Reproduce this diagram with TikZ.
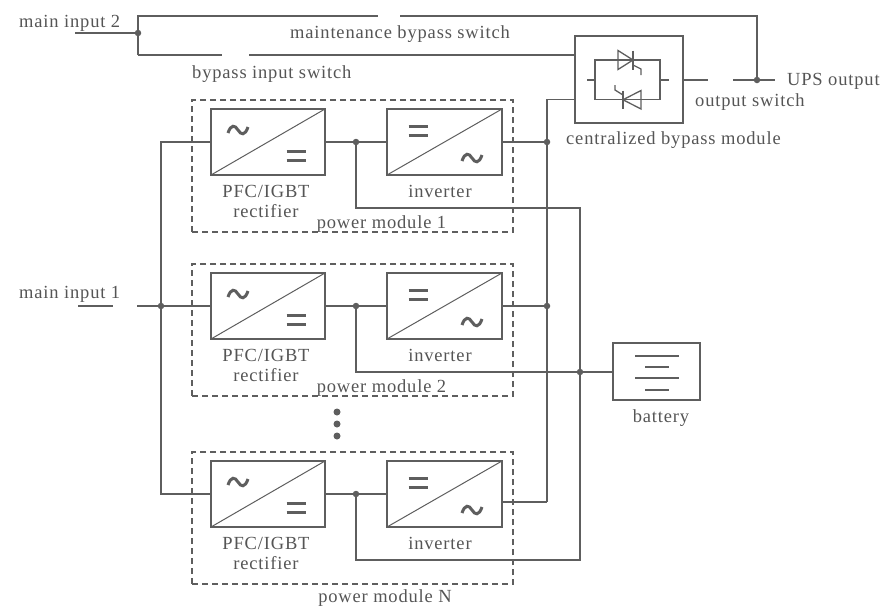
\documentclass[tikz,border=0pt]{standalone}
\usepackage{fontspec}
\setmainfont{Liberation Serif}[LetterSpace=4.5]
\definecolor{lc}{HTML}{5E5E5E}
\definecolor{tc}{HTML}{555555}
\begin{document}
\begin{tikzpicture}[x=1pt,y=-1pt,
  wire/.style={draw=lc, line width=1.3pt},
  conv/.style={draw=lc, line width=1.3pt, minimum width=114pt, minimum height=66pt, inner sep=0pt, outer sep=0pt},
  modbox/.style={draw=lc, line width=1.2pt, dash pattern=on 6pt off 4pt, minimum width=321pt, minimum height=132pt, inner sep=0pt, outer sep=0pt},
  plainbox/.style={draw=lc, line width=1.3pt, inner sep=0pt, outer sep=0pt},
  jdot/.style={circle, fill=lc, inner sep=0pt, minimum size=6.5pt},
  vdot/.style={circle, fill=lc, inner sep=0pt, minimum size=7pt},
  lbl/.style={text=tc, font=\fontsize{18.5}{21}\selectfont, inner sep=0pt},
  sym/.style={draw=lc, line width=3pt},
  thin/.style={draw=lc, line width=1pt}]
\useasboundingbox (0,0) rectangle (881,606);

% ---------- power modules ----------
\foreach \k/\dy in {1/0, 2/164, N/352}{
  \node[modbox] (m\k) at (352.5,166+\dy) {};
  \node[conv] (r\k) at (268,142+\dy) {};
  \node[conv, minimum width=115pt] (i\k) at (444.5,142+\dy) {};
  \draw[thin] (r\k.south west) -- (r\k.north east);
  \draw[thin] (i\k.south west) -- (i\k.north east);
  % rectifier symbols
  \begin{scope}[shift={(238,130+\dy)}]
    \draw[sym] (-10,3) .. controls (-7,-6) and (-3,-5) .. (0,0) .. controls (3,5) and (7,6) .. (10,-3);
  \end{scope}
  \begin{scope}[shift={(296,156+\dy)}]
    \draw[sym] (-9.5,-4.5) -- (9.5,-4.5);
    \draw[sym] (-9.5,4.5) -- (9.5,4.5);
  \end{scope}
  % inverter symbols
  \begin{scope}[shift={(418,131+\dy)}]
    \draw[sym] (-9.5,-4.5) -- (9.5,-4.5);
    \draw[sym] (-9.5,4.5) -- (9.5,4.5);
  \end{scope}
  \begin{scope}[shift={(472,158+\dy)}]
    \draw[sym] (-10,3) .. controls (-7,-6) and (-3,-5) .. (0,0) .. controls (3,5) and (7,6) .. (10,-3);
  \end{scope}
  \node[lbl, anchor=base] (pl\k) at (266,197.5+\dy) {PFC/IGBT};
  \node[lbl, anchor=base] (rl\k) at (266,217+\dy) {rectifier};
  \node[lbl, anchor=base] (il\k) at (440,197+\dy) {inverter};
  \coordinate (dc\k) at (356,142+\dy);
  \coordinate (dd\k) at (356,208+\dy);
  \draw[wire] (r\k.east) -- (i\k.west);
}
\node[lbl, anchor=base] (ml1) at (381.5,228.5) {power module 1};
\node[lbl, anchor=base] (ml2) at (381.5,392.5) {power module 2};
\node[lbl, anchor=base] (mlN) at (385,602) {power module N};

% ---------- vertical dots ----------
\node[vdot] (v1) at (337,412) {};
\node[vdot] (v2) at (337,424) {};
\node[vdot] (v3) at (337,436) {};

% ---------- bypass module ----------
\node[plainbox, minimum width=108pt, minimum height=87pt] (byp) at (629,79.5) {};
\node[plainbox, minimum width=65pt, minimum height=39.5pt] (thy) at (627.5,79.75) {};
\coordinate (sL) at (587,80);
\coordinate (sR) at (669,80);
\draw[wire] (sL) -- (thy.west |- sL);
\draw[wire] (thy.east |- sR) -- (sR);
% upper thyristor (pointing right)
\draw[wire, line join=miter] (618,50.5) -- (618,69.5) -- (633,60) -- cycle;
\draw[wire] (633,50.5) -- (633,69.5);
\draw[wire] (633,65) -- (641,69) -- (641,75);
% lower thyristor (pointing left)
\draw[wire, line join=miter] (641,90.5) -- (641,109) -- (623,99.75) -- cycle;
\draw[wire] (623,90.5) -- (623,109);
\draw[wire] (623,95) -- (615,90) -- (615,85);

% ---------- battery ----------
\node[plainbox, minimum width=87pt, minimum height=57pt] (bat) at (656.5,371.5) {};
\draw[wire] (635,356) -- (679,356);
\draw[wire] (645,367) -- (669,367);
\draw[wire] (635,378) -- (679,378);
\draw[wire] (645,390) -- (669,390);
\node[lbl, anchor=base] (batl) at (661,422) {battery};

% ---------- coordinates ----------
\coordinate (mi2) at (75,33);
\coordinate (J2) at (138,33);
\coordinate (J2t) at (138,16);
\coordinate (J2b) at (138,55);
\coordinate (mbA) at (378,16);
\coordinate (mbB) at (400,16);
\coordinate (UPSc) at (757,16);
\coordinate (UPS) at (757,80);
\coordinate (biA) at (222,55);
\coordinate (biB) at (249,55);
\coordinate (osA) at (708,80);
\coordinate (osB) at (733,80);
\coordinate (UPSe) at (775,80);
\coordinate (bb) at (547,99.5);
\coordinate (o1) at (547,142);
\coordinate (o2) at (547,306);
\coordinate (oN) at (547,502);
\coordinate (mi1a) at (78,306);
\coordinate (mi1b) at (113,306);
\coordinate (mi1c) at (137,306);
\coordinate (B1) at (161,142);
\coordinate (B2) at (161,306);
\coordinate (BN) at (161,494);
\coordinate (bt1) at (580,208);
\coordinate (bt2) at (580,372);
\coordinate (btN) at (580,560);

% ---------- wiring ----------
\draw[wire] (mi2) -- (J2);
\draw[wire] (J2b) -- (J2t) -- (mbA);
\draw[wire] (mbB) -- (UPSc) -- (UPS);
\draw[wire] (J2b) -- (biA);
\draw[wire] (biB) -- (biB -| byp.west);
\draw[wire] (byp.east |- osA) -- (osA);
\draw[wire] (osB) -- (UPSe);
\draw[wire] (bb -| byp.west) -- (bb) -- (oN);
\draw[wire] (i1.east) -- (o1);
\draw[wire] (i2.east) -- (o2);
\draw[wire] (iN.east |- oN) -- (oN);
\draw[wire] (mi1a) -- (mi1b);
\draw[wire] (mi1c) -- (B2);
\draw[wire] (r1.west) -- (B1) -- (BN) -- (rN.west);
\draw[wire] (B2) -- (r2.west);
\draw[wire] (dc1) -- (dd1) -- (bt1) -- (btN) -- (ddN) -- (dcN);
\draw[wire] (dc2) -- (dd2) -- (bt2) -- (bat.west |- bt2);

% ---------- junction dots ----------
\foreach \p in {J2, UPS, B2, dc1, dc2, dcN, o1, o2, bt2}
  \node[jdot] at (\p) {};

% ---------- labels ----------
\node[lbl, anchor=base west] (tmi2) at (19,27) {main input 2};
\node[lbl, anchor=base west] (tmb) at (290,38.5) {maintenance bypass switch};
\node[lbl, anchor=base west] (tbi) at (192,78.5) {bypass input switch};
\node[lbl, anchor=base west] (tups) at (787,85.5) {UPS output};
\node[lbl, anchor=base west] (tos) at (695,106.5) {output switch};
\node[lbl, anchor=base west] (tcb) at (566,144.5) {centralized bypass module};
\node[lbl, anchor=base west] (tmi1) at (19,298.5) {main input 1};
\end{tikzpicture}
\end{document}
